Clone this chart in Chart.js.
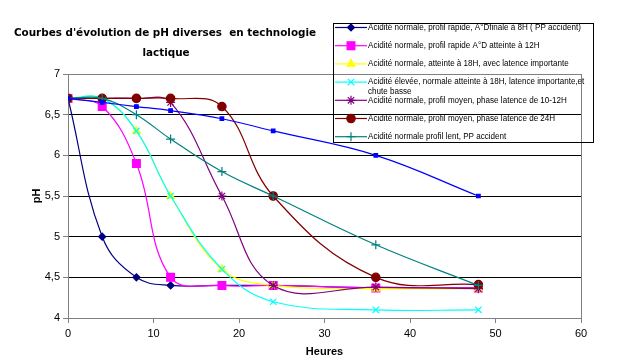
<!DOCTYPE html>
<html>
<head>
<meta charset="utf-8">
<script src="https://cdn.jsdelivr.net/npm/chart.js@4"></script>
<style>
  body { margin: 0; background: #fff; }
  #wrap { width: 627px; height: 364px; }
</style>
</head>
<body>
<div id="wrap"><canvas id="phChart" width="627" height="364"></canvas></div>
<script>
// heures de mesure
var hours = [0, 4, 8, 12, 18, 24, 36, 48];

var phRapide8H    = [6.7, 5.0, 4.5, 4.4, 4.4, 4.4, 4.37, 4.37];
var phRapide12H   = [6.7, 6.6, 5.9, 4.5, 4.4, 4.4, 4.37, 4.37];
var phLatence18H  = [6.7, 6.7, 6.3, 5.5, 4.6, 4.4, 4.36, 4.36];
var phEleveeBasse = [6.7, 6.7, 6.3, 5.5, 4.6, 4.2, 4.1, 4.1];
var phMoyen1012H  = [6.7, 6.7, 6.7, 6.65, 5.5, 4.4, 4.38, 4.36];
var phMoyen24H    = [6.7, 6.7, 6.7, 6.7, 6.6, 5.5, 4.5, 4.41];
var phLentPP      = [6.7, 6.7, 6.5, 6.2, 5.8, 5.5, 4.9, 4.4];
var phTresLent    = [6.7, 6.65, 6.6, 6.55, 6.45, 6.3, 6.0, 5.5];

var seriesLabels = [
    'Acidité normale, profil rapide, A°Dfinale à 8H ( PP accident)',
    'Acidité normale, profil rapide A°D atteinte à 12H',
    'Acidité normale, atteinte à 18H, avec latence importante',
    'Acidité élevée, normale atteinte à 18H, latence importante,et chute basse',
    'Acidité normale, profil moyen, phase latence de 10-12H',
    'Acidité normale, profil moyen, phase latence de 24H',
    'Acidité normale profil lent, PP accident',
    ''
];

var yTicks = [4, 4.5, 5, 5.5, 6, 6.5, 7];
var chartTitle = ["Courbes d'évolution de pH diverses  en technologie", 'lactique'];

function toPoints(values) {
    return values.map(function(v, i) { return { x: hours[i], y: v }; });
}

var styles = [
    { color: '#000080', point: 'rectRot', radius: 3.5 },
    { color: '#FF00FF', point: 'rect', radius: 5.5 },
    { color: '#FFFF00', point: 'triangle', radius: 4.5 },
    { color: '#00FFFF', point: 'crossRot', radius: 4.5 },
    { color: '#800080', point: 'star', radius: 4.5 },
    { color: '#800000', point: 'circle', radius: 4.2 },
    { color: '#008080', point: 'cross', radius: 4.5 },
    { color: '#0000FF', point: 'rect', radius: 2.5 }
];

var allValues = [phRapide8H, phRapide12H, phLatence18H, phEleveeBasse,
                 phMoyen1012H, phMoyen24H, phLentPP, phTresLent];

var datasets = allValues.map(function(vals, i) {
    var s = styles[i];
    return {
        label: seriesLabels[i],
        data: toPoints(vals),
        borderColor: s.color,
        backgroundColor: s.color,
        borderWidth: 1.2,
        pointStyle: s.point,
        pointRadius: s.radius,
        pointBorderWidth: 1.2,
        pointBackgroundColor: s.color,
        pointBorderColor: s.color,
        tension: 0.4,
        fill: false,
        order: allValues.length - i // derniere serie dessinee au-dessus
    };
});

// titre, cadre et legende dessines a la main
var decorPlugin = {
    id: 'decor',
    afterDraw: function(chart) {
        var ctx = chart.ctx;
        var area = chart.chartArea;
        ctx.save();

        // cadre droit de la zone de tracé
        ctx.strokeStyle = '#808080';
        ctx.lineWidth = 1;
        ctx.beginPath();
        ctx.moveTo(Math.round(area.right) + 0.5, area.top);
        ctx.lineTo(Math.round(area.right) + 0.5, area.bottom);
        ctx.stroke();

        // titre
        ctx.fillStyle = '#000';
        ctx.font = 'bold 10.4px "DejaVu Sans"';
        ctx.textAlign = 'center';
        ctx.textBaseline = 'middle';
        ctx.fillText(chartTitle[0], 165, 33);
        ctx.fillText(chartTitle[1], 166, 53);

        // legende
        var bx = 333, by = 23, bw = 260, bh = 119;
        var squeeze = 0.95;
        ctx.strokeStyle = '#000';
        ctx.lineWidth = 1;
        ctx.strokeRect(bx + 0.5, by + 0.5, bw, bh);
        ctx.font = '8.5px "Liberation Sans"';
        ctx.textAlign = 'left';
        var rowY = by + 4.5;
        chart.data.datasets.forEach(function(ds) {
            if (!ds.label) return;
            ctx.strokeStyle = ds.borderColor;
            ctx.fillStyle = ds.borderColor;
            ctx.lineWidth = 1.2;
            ctx.beginPath();
            ctx.moveTo(bx + 2, rowY);
            ctx.lineTo(bx + 34, rowY);
            ctx.stroke();
            Chart.helpers.drawPoint(ctx, {
                pointStyle: ds.pointStyle,
                radius: ds.pointRadius,
                borderWidth: 1.2
            }, bx + 18, rowY);
            ctx.fillStyle = '#000';
            // coupure des libelles trop longs
            var words = ds.label.split(' ');
            var line = '', lines = [];
            words.forEach(function(w) {
                var test = line ? line + ' ' + w : w;
                if (ctx.measureText(test).width * squeeze > 220 && line) {
                    lines.push(line);
                    line = w;
                } else {
                    line = test;
                }
            });
            lines.push(line);
            lines.forEach(function(l, k) {
                ctx.save();
                ctx.translate(bx + 35, rowY + k * 9.5);
                ctx.scale(squeeze, 1);
                ctx.fillText(l, 0, 0);
                ctx.restore();
            });
            rowY += 18.2;
        });
        ctx.restore();
    }
};

document.addEventListener('DOMContentLoaded', function() {
    var ctx = document.getElementById('phChart').getContext('2d');
    new Chart(ctx, {
        type: 'line',
        data: { datasets: datasets },
        options: {
            responsive: false,
            animation: false,
            events: [],
            layout: { padding: { top: 74, right: 46, left: 0, bottom: 0 } },
            plugins: {
                legend: { display: false },
                tooltip: { enabled: false }
            },
            scales: {
                x: {
                    type: 'linear',
                    min: 0,
                    max: 60,
                    ticks: {
                        stepSize: 10,
                        color: '#000',
                        padding: 4,
                        maxRotation: 0,
                        font: { family: 'Liberation Sans', size: 11 }
                    },
                    grid: {
                        drawOnChartArea: false,
                        tickLength: 5,
                        color: '#808080'
                    },
                    border: { color: '#808080' },
                    title: {
                        display: true,
                        text: 'Heures',
                        color: '#000',
                        font: { family: 'Liberation Sans', size: 11, weight: 'bold' },
                        padding: { top: 0, bottom: 5 }
                    },
                    afterFit: function(scale) { scale.height = 46; }
                },
                y: {
                    min: 4,
                    max: 7,
                    afterBuildTicks: function(scale) {
                        scale.ticks = yTicks.map(function(v) { return { value: v }; });
                    },
                    ticks: {
                        color: '#000',
                        padding: 3,
                        font: { family: 'Liberation Sans', size: 11 },
                        callback: function(v) { return String(v).replace('.', ','); }
                    },
                    grid: {
                        tickLength: 5,
                        color: function(c) {
                            return (c.tick && (c.tick.value === 7)) ? '#808080' : '#000';
                        },
                        tickColor: '#808080'
                    },
                    border: { color: '#808080' },
                    title: {
                        display: true,
                        text: 'pH',
                        color: '#000',
                        font: { family: 'Liberation Sans', size: 11, weight: 'bold' },
                        padding: { top: 30, bottom: 0 }
                    },
                    afterFit: function(scale) { scale.width = 68; }
                }
            }
        },
        plugins: [decorPlugin]
    });
});
</script>
</body>
</html>
